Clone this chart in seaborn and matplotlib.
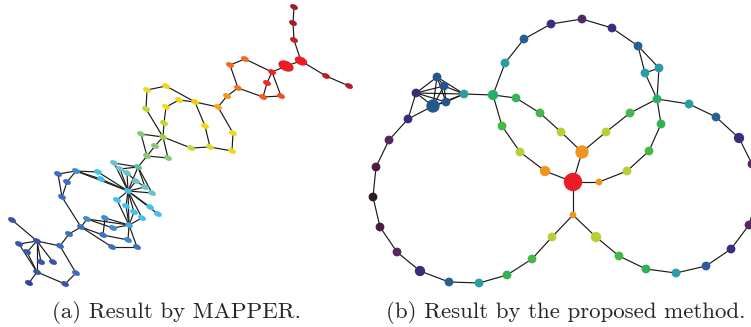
import numpy as np
import pandas as pd
import matplotlib
matplotlib.use("Agg")
import matplotlib.pyplot as plt
from matplotlib.path import Path
from matplotlib.collections import LineCollection
import seaborn as sns

# ---------------- (a) MAPPER graph ----------------
a_ids = ["r1", "r2", "r3", "r4", "r5", "r6", "r7", "r8", "r9", "r10", "r11",
         "o1", "o2", "o3", "o4", "o5",
         "y1", "y2", "y3", "y4", "y5", "y6", "y7", "y8", "y9", "y10", "y11", "y12",
         "g1", "g2", "g3", "g4", "g5",
         "t1", "t2", "t3", "t4", "t5", "t6", "t7",
         "hub", "c1", "c2", "c3", "c4", "c5", "c6", "c7", "c8", "hub2",
         "b1", "b2", "b3", "b4", "b5", "b6", "b7", "b8", "b9", "b10", "b11", "b12",
         "b13", "b14", "b15", "b16", "b17", "b18", "b19", "b20", "b21", "b22", "b23", "b24"]
a_x = [294, 293, 294, 301, 286, 326, 349, 272, 267, 281, 263,
       245, 230, 238, 227, 218,
       195, 179, 166, 147, 166, 146, 164, 205, 233, 210, 232, 191,
       163, 141, 155, 147, 168,
       138, 114, 120, 127, 136, 145, 152,
       128, 117, 126, 134, 142, 150, 158, 98, 101, 129,
       76, 58, 67, 62, 81, 87, 105, 113, 103, 128, 112, 137,
       69, 60, 37, 12, 19, 27, 41, 53, 37, 29, 65, 76]
a_y = [7, 23, 40, 61, 66, 76, 86, 72, 83, 96, 97,
       59, 65, 88, 96, 107,
       102, 100, 107, 90, 86, 109, 123, 126, 133, 147, 151, 148,
       137, 134, 146, 156, 158,
       167, 163, 169, 173, 181, 187, 193,
       191, 200, 206, 212, 218, 207, 214, 172, 179, 225,
       171, 174, 182, 197, 227, 219, 218, 228, 235, 240, 247, 247,
       234, 246, 241, 220, 244, 252, 262, 262, 272, 283, 284, 273]
a_shade = ["#a31e24", "#a31e24", "#c0212a", "#ec1c24", "#ec1c24", "#b81f27", "#b01f26",
           "#ec2227", "#ef2a26", "#f04e23", "#f25a22",
           "#f26a21", "#f26a21", "#f3702a", "#f7941d", "#f7a31b",
           "#f6c90f", "#f2d414", "#efdc1c", "#e9dc1f", "#f0d816", "#c4d43a", "#c4d43a",
           "#f0d816", "#f0d816", "#e2d923", "#f0d816", "#c8d63a",
           "#a6cc45", "#8bc878", "#8bc878", "#8bc878", "#8bc878",
           "#5fbf9a", "#6cc4c6", "#6cc4c6", "#6cc4c6", "#6cc4c6", "#6cc4c6", "#6cc4c6",
           "#40c2e6", "#40c4ee", "#40c4ee", "#40c4ee", "#40c4ee", "#40c4ee", "#40c4ee",
           "#40c4ee", "#40c4ee", "#3fa9e0",
           "#3f8bd2", "#3f70c0", "#3f70c0", "#3f70c0", "#3f70c0", "#3f8bd2", "#3f8bd2",
           "#3f8bd2", "#3f70c0", "#3f8bd2", "#3f70c0", "#3f70c0",
           "#3f70c0", "#3f6abd", "#3a55a7", "#3a55a7", "#3a55a7", "#3a55a7", "#3a55a7",
           "#3a55a7", "#3a55a7", "#2f4597", "#3a55a7", "#3f6abd"]
a_size = ["n"] * 3 + ["l", "xl"] + ["n"] * (len(a_ids) - 5)
a_edges = [("r1", "r2"), ("r2", "r3"), ("r3", "r4"), ("r4", "r5"), ("r4", "r6"), ("r6", "r7"),
           ("r5", "r8"), ("r8", "r9"), ("r8", "r10"), ("r9", "r11"), ("r11", "r10"),
           ("r8", "o1"), ("r11", "o3"), ("o1", "o2"), ("o2", "o3"), ("o3", "o4"), ("o4", "o5"),
           ("o5", "y1"), ("y1", "y2"), ("y2", "y3"), ("y3", "y7"), ("y5", "y1"), ("y4", "y5"),
           ("y4", "y6"), ("y6", "g1"), ("y7", "g1"), ("y1", "y8"), ("y8", "y10"), ("y10", "y11"),
           ("y11", "y9"), ("y9", "o5"), ("y10", "y12"), ("y12", "g1"),
           ("g1", "g2"), ("g2", "g4"), ("g1", "g3"), ("g3", "g4"), ("g1", "g5"), ("g4", "g5"),
           ("g4", "t1"),
           ("t2", "t1"), ("t3", "t1"), ("t1", "t6"), ("t1", "t7"), ("t4", "t5"), ("t5", "t6"),
           ("hub", "t1"), ("hub", "t2"), ("hub", "t3"), ("hub", "t4"), ("hub", "t5"),
           ("hub", "t6"), ("hub", "t7"), ("hub", "c1"), ("hub", "c2"), ("hub", "c3"),
           ("hub", "c4"), ("hub", "c5"), ("hub", "c6"), ("hub", "c7"), ("hub", "c8"),
           ("hub", "b1"), ("hub", "hub2"),
           ("hub2", "c1"), ("hub2", "c2"), ("hub2", "c3"), ("hub2", "c4"),
           ("b1", "c7"), ("b1", "c8"), ("b2", "b1"), ("b2", "b4"), ("b1", "b3"), ("b3", "b4"),
           ("b4", "b5"), ("b5", "b6"), ("b6", "hub2"), ("b6", "b8"), ("b8", "hub2"),
           ("b7", "hub2"), ("b7", "b9"), ("b5", "b9"), ("b9", "b10"), ("b10", "hub2"),
           ("b5", "b11"), ("b11", "b12"), ("b12", "hub2"), ("b5", "b13"),
           ("b13", "b14"), ("b14", "b15"), ("b14", "b24"), ("b24", "b23"), ("b23", "b21"),
           ("b15", "b16"), ("b15", "b17"), ("b15", "b18"), ("b15", "b19"), ("b15", "b20"),
           ("b15", "b21"), ("b17", "b21"), ("b18", "b21"), ("b21", "b22")]

# ---------------- (b) proposed method graph ----------------
b_ids = ["n1", "n2", "n3", "n4", "n5", "n6", "n7", "n8", "n9", "n10",
         "k1", "k2", "k3", "k4", "k5", "k6", "k7",
         "l1", "l2", "l3", "l4", "l5", "l6", "l7", "l8", "l9", "l10", "l11", "l12",
         "ctr", "u1", "a1", "a2", "a3", "a4", "a5", "d1", "d2", "d3",
         "e1", "e2", "e3", "e4",
         "m1", "m2", "m3", "m4", "m5", "m6", "m7", "m8", "m9", "m10", "m11", "m12"]
b_x = [582, 551, 612, 524, 638, 505, 659, 645, 493, 657,
       464, 437, 444, 416, 446, 433, 408,
       389, 376, 373, 380, 397, 420, 449, 479, 507, 532, 552, 573,
       573, 582, 516, 540, 561, 606, 630, 502, 520, 545,
       599, 627, 649, 661,
       596, 619, 646, 676, 706, 731, 749, 758, 752, 739, 716, 689]
b_y = [19, 24, 28, 39, 46, 63, 68, 73, 95, 99,
       94, 77, 86, 93, 102, 106, 119,
       140, 167, 197, 227, 252, 271, 282, 283, 275, 259, 237, 215,
       182, 152, 98, 113, 132, 132, 113, 126, 152, 171,
       182, 171, 151, 124,
       237, 256, 269, 273, 266, 249, 225, 194, 164, 138, 117, 104]
b_shade = ["#4c2a6a", "#3a2f7e", "#3a2f7e", "#275e94", "#275e94", "#2a9ca5", "#2a9ca5",
           "#2a9ca5", "#27b064", "#27b064",
           "#2aa0a6", "#23588e", "#23588e", "#3a2c78", "#23588e", "#23588e", "#3a2c78",
           "#57285f", "#4a1d3e", "#2f1a28", "#4a1d3e", "#57285f", "#3a2c78", "#275e94",
           "#2a9ca5", "#32b255", "#45b749", "#b2d235", "#f0931f",
           "#ec1c24", "#f0931f", "#37b459", "#45b749", "#b2d235", "#b2d235", "#45b749",
           "#45b749", "#b2d235", "#f0931f",
           "#f0931f", "#b2d235", "#45b749", "#32b255",
           "#b2d235", "#45b749", "#32b255", "#2a9ca5", "#275e94", "#3a2c78", "#57285f",
           "#4a1d3e", "#57285f", "#3a2c78", "#275e94", "#2a9ca5"]
b_size = ["n", "n", "n", "n", "n", "n", "n", "n", "m", "n",
          "n", "n", "n", "n", "n", "l", "n",
          "n", "n", "n", "n", "n", "m", "n", "n", "n", "n", "n", "s",
          "xl", "l", "n", "n", "n", "n", "n", "n", "n", "m",
          "s", "n", "n", "n",
          "m", "n", "n", "n", "n", "n", "n", "n", "n", "m", "n", "n"]
b_edges = [("n9", "n6"), ("n6", "n4"), ("n4", "n2"), ("n2", "n1"), ("n1", "n3"), ("n3", "n5"),
           ("n5", "n7"), ("n5", "n8"), ("n8", "n7"), ("n7", "n10"), ("n8", "n10"),
           ("n9", "k1"), ("k1", "k2"), ("k1", "k3"), ("k1", "k5"), ("k1", "k6"), ("k1", "k4"),
           ("k2", "k3"), ("k2", "k4"), ("k2", "k5"), ("k2", "k6"), ("k3", "k4"), ("k3", "k5"),
           ("k3", "k6"), ("k4", "k5"), ("k4", "k6"), ("k5", "k6"), ("k4", "k7"), ("k6", "k7"),
           ("k7", "l1"), ("l1", "l2"), ("l2", "l3"), ("l3", "l4"), ("l4", "l5"), ("l5", "l6"),
           ("l6", "l7"), ("l7", "l8"), ("l8", "l9"), ("l9", "l10"), ("l10", "l11"),
           ("l11", "l12"), ("l12", "ctr"),
           ("n9", "a1"), ("a1", "a2"), ("a2", "a3"), ("a3", "u1"), ("u1", "a4"), ("a4", "a5"),
           ("a5", "n10"), ("u1", "ctr"),
           ("n9", "d1"), ("d1", "d2"), ("d2", "d3"), ("d3", "ctr"), ("ctr", "e1"),
           ("e1", "e2"), ("e2", "e3"), ("e3", "e4"), ("e4", "n10"),
           ("l12", "m1"), ("m1", "m2"), ("m2", "m3"), ("m3", "m4"), ("m4", "m5"), ("m5", "m6"),
           ("m6", "m7"), ("m7", "m8"), ("m8", "m9"), ("m9", "m10"), ("m10", "m11"),
           ("m11", "m12"), ("m12", "n10")]

captions = ["(a) Result by MAPPER.", "(b) Result by the proposed method."]

# ---------------- drawing ----------------
sns.set_theme(style="white")
W, H = 751, 327
fig = plt.figure(figsize=(W / 100, H / 100), dpi=100)
fig.patch.set_facecolor("white")

split = 365
ax_a = fig.add_axes([0, 0, split / W, 1])
ax_b = fig.add_axes([split / W, 0, 1 - split / W, 1])

# tilted ellipse glyph for the MAPPER nodes
t = np.linspace(0, 2 * np.pi, 40)
ang = np.deg2rad(-25)
ex, ey = np.cos(t), 0.62 * np.sin(t)
ell = Path(np.column_stack([ex * np.cos(ang) - ey * np.sin(ang),
                            ex * np.sin(ang) + ey * np.cos(ang)]), closed=True)


def draw_graph(ax, ids, xs, ys, shades, sizes, edges, size_map, marker, lw):
    df = pd.DataFrame({"id": ids, "x": xs, "y": ys, "shade": shades, "size": sizes})
    pos = df.set_index("id")[["x", "y"]]
    segs = [[tuple(pos.loc[u]), tuple(pos.loc[v])] for u, v in edges]
    ax.add_collection(LineCollection(segs, colors="#1a1a1a", linewidths=lw, zorder=1))
    sns.scatterplot(data=df, x="x", y="y", hue="shade",
                    palette={c: c for c in df["shade"].unique()},
                    size="size", sizes=size_map, marker=marker,
                    linewidth=0, legend=False, ax=ax, zorder=2)
    ax.set_xlabel("")
    ax.set_ylabel("")


draw_graph(ax_a, a_ids, a_x, a_y, a_shade, a_size, a_edges,
           {"n": 32, "l": 80, "xl": 120}, ell, 0.85)
draw_graph(ax_b, b_ids, b_x, b_y, b_shade, b_size, b_edges,
           {"s": 24, "n": 40, "m": 55, "l": 92, "xl": 175}, "o", 0.85)
ax_a.set_xlim(0, split)
ax_b.set_xlim(split, W)
for ax in (ax_a, ax_b):
    ax.set_ylim(H, 0)
    ax.set_axis_off()

fig.text(176 / W, (H - 318) / H, captions[0], family="cmr10", fontsize=16.5,
         ha="center", va="baseline")
fig.text(566 / W, (H - 318) / H, captions[1], family="cmr10", fontsize=16.5,
         ha="center", va="baseline")

fig.savefig("out.png", dpi=100, facecolor="white")
